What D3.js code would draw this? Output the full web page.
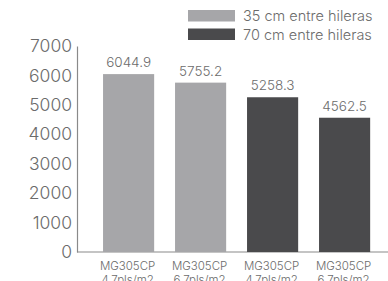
<!DOCTYPE html>
<html>
<head>
<meta charset="utf-8">
<script src="https://cdn.jsdelivr.net/npm/d3@7"></script>
<style>
  body { margin: 0; background: #fff; }
  text { font-family: Inter, "Liberation Sans", sans-serif; font-weight: 300; fill: #6b6b6b; }
</style>
</head>
<body>
<script>
var categories = ["MG305CP|4.7pls/m2", "MG305CP|6.7pls/m2", "MG305CP|4.7pls/m2", "MG305CP|6.7pls/m2"];
var values = [6044.9, 5755.2, 5258.3, 4562.5];
var groups = ["35 cm entre hileras", "35 cm entre hileras", "70 cm entre hileras", "70 cm entre hileras"];
var legendLabels = ["35 cm entre hileras", "70 cm entre hileras"];
var yTicks = [0, 1000, 2000, 3000, 4000, 5000, 6000, 7000];

var width = 388, height = 281;

var svg = d3.select("body").append("svg")
  .attr("width", width)
  .attr("height", height);

var color = d3.scaleOrdinal()
  .domain(legendLabels)
  .range(["#a6a6a9", "#4a4a4c"]);

var x = d3.scaleBand()
  .domain(d3.range(categories.length))
  .range([92.6, 380.6])
  .paddingInner(0.29)
  .paddingOuter(0.145);

var y = d3.scaleLinear()
  .domain([0, 7000])
  .range([252, 46]);

// y axis
var yAxis = svg.append("g")
  .attr("transform", "translate(77,0)")
  .call(d3.axisLeft(y).tickValues(yTicks).tickSize(0).tickPadding(5).tickFormat(d3.format("d")));
yAxis.select(".domain").attr("stroke", "#8a8a8a").attr("stroke-width", 1.2);
yAxis.selectAll("text").style("font-size", "17.5px").attr("fill", "#6b6b6b");

// baseline
svg.append("line")
  .attr("x1", 77).attr("x2", width)
  .attr("y1", y(0)).attr("y2", y(0))
  .attr("stroke", "#8a8a8a").attr("stroke-width", 1.2);

// bars
svg.selectAll("rect.bar").data(values).enter().append("rect")
  .attr("class", "bar")
  .attr("x", function(d, i){ return x(i); })
  .attr("y", function(d){ return y(d); })
  .attr("width", x.bandwidth())
  .attr("height", function(d){ return y(0) - y(d); })
  .attr("fill", function(d, i){ return color(groups[i]); });

// value labels
svg.selectAll("text.val").data(values).enter().append("text")
  .attr("class", "val")
  .attr("x", function(d, i){ return x(i) + x.bandwidth() / 2; })
  .attr("y", function(d){ return y(d) - 7; })
  .attr("text-anchor", "middle")
  .style("font-size", "13.5px")
  .text(function(d){ return d.toFixed(1); });

// category labels, two lines
var cat = svg.selectAll("text.cat").data(categories).enter().append("text")
  .attr("class", "cat")
  .attr("x", function(d, i){ return x(i) + x.bandwidth() / 2 - 1; })
  .attr("y", 270)
  .attr("text-anchor", "middle")
  .style("font-size", "11.5px");
cat.each(function(d){
  var parts = d.split("|");
  var t = d3.select(this);
  parts.forEach(function(p, j){
    t.append("tspan")
      .attr("x", t.attr("x"))
      .attr("dy", j === 0 ? 0 : 14)
      .text(p);
  });
});

// legend
var legend = svg.selectAll("g.leg").data(legendLabels).enter().append("g")
  .attr("class", "leg")
  .attr("transform", function(d, i){ return "translate(188," + (10 + i * 18.5) + ")"; });
legend.append("rect")
  .attr("width", 47).attr("height", 11.5)
  .attr("fill", function(d){ return color(d); });
legend.append("text")
  .attr("x", 55).attr("y", 11)
  .style("font-size", "14.5px")
  .text(function(d){ return d; });
</script>
</body>
</html>
